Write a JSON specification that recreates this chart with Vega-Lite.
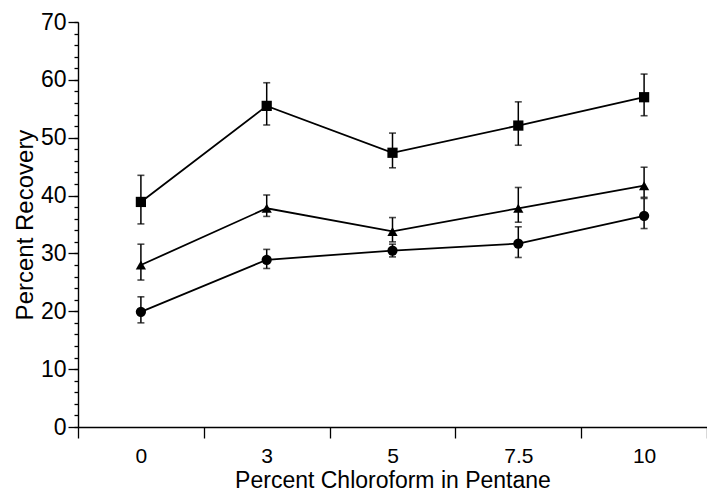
{
  "$schema": "https://vega.github.io/schema/vega-lite/v6.json",
  "width": 629,
  "height": 405,
  "autosize": "none",
  "padding": {"left": 78, "top": 22, "right": 0, "bottom": 70},
  "background": "white",
  "config": {
    "view": {"stroke": null},
    "font": "Liberation Sans",
    "axis": {
      "labelFont": "Liberation Sans",
      "titleFont": "Liberation Sans",
      "labelColor": "black",
      "titleColor": "black",
      "domainColor": "black",
      "tickColor": "black",
      "titleFontWeight": "normal",
      "grid": false,
      "domainWidth": 1.4,
      "tickWidth": 1.3
    }
  },
  "data": {
    "values": [
      {"pct": "0", "series": "Square", "mean": 38.9, "lo": 35.1, "hi": 43.5},
      {"pct": "3", "series": "Square", "mean": 55.5, "lo": 52.2, "hi": 59.5},
      {"pct": "5", "series": "Square", "mean": 47.4, "lo": 44.8, "hi": 50.8},
      {"pct": "7.5", "series": "Square", "mean": 52.1, "lo": 48.7, "hi": 56.2},
      {"pct": "10", "series": "Square", "mean": 57.0, "lo": 53.8, "hi": 61.0},
      {"pct": "0", "series": "Triangle", "mean": 28.0, "lo": 25.4, "hi": 31.6},
      {"pct": "3", "series": "Triangle", "mean": 37.8, "lo": 36.4, "hi": 40.1},
      {"pct": "5", "series": "Triangle", "mean": 33.8, "lo": 32.0, "hi": 36.2},
      {"pct": "7.5", "series": "Triangle", "mean": 37.8, "lo": 35.4, "hi": 41.4},
      {"pct": "10", "series": "Triangle", "mean": 41.7, "lo": 39.7, "hi": 44.9},
      {"pct": "0", "series": "Circle", "mean": 19.9, "lo": 18.0, "hi": 22.5},
      {"pct": "3", "series": "Circle", "mean": 28.9, "lo": 27.4, "hi": 30.7},
      {"pct": "5", "series": "Circle", "mean": 30.5, "lo": 29.4, "hi": 31.6},
      {"pct": "7.5", "series": "Circle", "mean": 31.7, "lo": 29.3, "hi": 34.6},
      {"pct": "10", "series": "Circle", "mean": 36.5, "lo": 34.3, "hi": 39.5}
    ]
  },
  "encoding": {
    "x": {
      "field": "pct",
      "type": "ordinal",
      "sort": ["0", "3", "5", "7.5", "10"],
      "scale": {"type": "band", "paddingInner": 0, "paddingOuter": 0},
      "axis": {
        "title": "Percent Chloroform in Pentane",
        "labelAngle": 0,
        "tickBand": "extent",
        "tickSize": 11,
        "labelPadding": 7,
        "labelFontSize": 21,
        "titleFontSize": 23,
        "titlePadding": 3
      }
    }
  },
  "layer": [
    {
      "mark": {"type": "point", "opacity": 0},
      "encoding": {
        "y": {
          "field": "mean",
          "type": "quantitative",
          "scale": {"domain": [0, 70]},
          "axis": {
            "orient": "left",
            "values": [0, 2, 4, 6, 8, 10, 12, 14, 16, 18, 20, 22, 24, 26, 28, 30, 32, 34, 36, 38, 40, 42, 44, 46, 48, 50, 52, 54, 56, 58, 60, 62, 64, 66, 68, 70],
            "labels": false,
            "domain": false,
            "tickSize": 4,
            "title": null
          }
        }
      }
    },
    {
      "layer": [
        {
          "mark": {
            "type": "errorbar",
            "ticks": {"color": "black", "size": 7, "thickness": 1.6},
            "rule": {"color": "black", "strokeWidth": 1.5}
          },
          "encoding": {
            "y": {"field": "lo", "type": "quantitative", "scale": {"domain": [0, 70]}},
            "y2": {"field": "hi"},
            "detail": {"field": "series"}
          }
        },
        {
          "mark": {"type": "line", "color": "black", "strokeWidth": 1.8},
          "encoding": {
            "y": {"field": "mean", "type": "quantitative"},
            "detail": {"field": "series"}
          }
        },
        {
          "mark": {"type": "point", "filled": true, "color": "black", "opacity": 1, "size": 105},
          "encoding": {
            "y": {"field": "mean", "type": "quantitative"},
            "shape": {
              "field": "series",
              "type": "nominal",
              "scale": {"domain": ["Square", "Triangle", "Circle"], "range": ["square", "triangle-up", "circle"]},
              "legend": null
            }
          }
        }
      ],
      "encoding": {
        "y": {
          "field": "mean",
          "type": "quantitative",
          "axis": {
            "orient": "left",
            "values": [0, 10, 20, 30, 40, 50, 60, 70],
            "tickSize": 10,
            "labelPadding": 2,
            "labelFontSize": 23,
            "title": "Percent Recovery",
            "titleFontSize": 24,
            "titlePadding": 3
          }
        }
      }
    }
  ],
  "resolve": {"axis": {"y": "independent"}}
}
